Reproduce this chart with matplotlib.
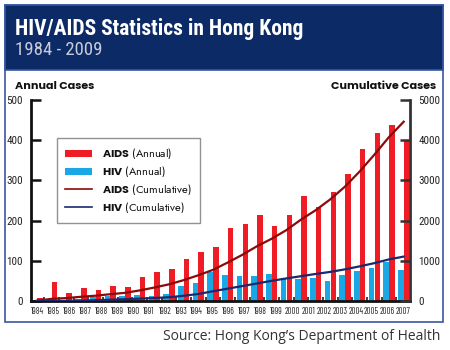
import numpy as np
import matplotlib
matplotlib.use("Agg")
import matplotlib.pyplot as plt
from matplotlib import font_manager
from matplotlib.patches import Rectangle, Patch
from matplotlib.lines import Line2D

# dados (1984 - 2009)
anos = list(range(1984, 2010))
aids_anual = [7, 47, 19, 32, 27, 37, 34, 60, 72, 80, 104, 122, 134,
              182, 192, 214, 186, 214, 262, 234, 271, 316, 377, 417, 439, 400]
hiv_anual = [0, 1, 2, 6, 11, 12, 13, 14, 13, 18, 37, 45, 71,
             64, 63, 61, 67, 58, 54, 57, 50, 65, 75, 81, 97, 78]
aids_cumul = [7, 54, 73, 105, 132, 169, 203, 263, 335, 415, 519, 641, 775,
              957, 1149, 1363, 1549, 1763, 2025, 2259, 2530, 2846, 3223, 3640, 4079, 4460]
hiv_cumul = [0, 1, 3, 9, 20, 32, 45, 59, 74, 94, 130, 175, 242,
             307, 372, 436, 502, 562, 617, 673, 724, 788, 862, 942, 1035, 1105]
rotulos_x = [str(a) for a in range(1984, 2008)]
ticks_esq = [0, 100, 200, 300, 400, 500]
ticks_dir = [0, 1000, 2000, 3000, 4000, 5000]

# fontes (pega a primeira que existir, com negrito de verdade quando precisa)
fontes = font_manager.fontManager.ttflist

def escolhe(cands, peso=400):
    for c in cands:
        if any(f.name == c and f.weight >= peso for f in fontes):
            return c
    return "DejaVu Sans"

titulo_f = escolhe(["Roboto Condensed", "Barlow Condensed", "Archivo Narrow",
                    "PT Sans Narrow", "Liberation Sans Narrow"], 700)
estreita = escolhe(["Roboto Condensed", "Barlow Condensed", "Archivo Narrow",
                    "PT Sans Narrow", "Liberation Sans Narrow"])
bem_estreita = escolhe(["Barlow Condensed", "Roboto Condensed", "PT Sans Narrow",
                        "Liberation Sans Narrow"])
geo_negrito = escolhe(["League Spartan", "Jost", "Poppins", "Montserrat",
                       "Nunito Sans", "Lato"], 700)
geometrica = escolhe(["Jost", "Futura", "Poppins", "Lato"])
fonte_fonte = escolhe(["Open Sans", "Source Sans 3", "Liberation Sans"])

plt.rcParams["mathtext.fontset"] = "custom"
plt.rcParams["mathtext.bf"] = geo_negrito + ":bold"
plt.rcParams["mathtext.rm"] = geometrica

vermelho = "#ee1c25"
azul = "#1aa7e6"
linha_verm = "#8b0a0a"
linha_azul = "#1b2a6e"
marinho = "#0c2a66"

W, H = 450, 350
fig = plt.figure(figsize=(4.5, 3.5), dpi=100)

def fx(px):
    return px / W

def fy(py):
    return 1 - py / H

# moldura e faixa do titulo
fig.patches.append(Rectangle((fx(5), fy(322)), fx(438), (322 - 5) / H,
                             transform=fig.transFigure, fill=False,
                             edgecolor="#3b56a3", linewidth=1.2, zorder=0))
fig.patches.append(Rectangle((fx(5), fy(70)), fx(438), (70 - 5) / H,
                             transform=fig.transFigure, facecolor=marinho,
                             edgecolor="#3b56a3", linewidth=1.2, zorder=0))

fig.text(fx(15), fy(35), "HIV/AIDS Statistics in Hong Kong", color="white",
         fontsize=15.5, fontweight="bold", family=titulo_f, va="baseline")
fig.text(fx(15), fy(55), "1984 - 2009", color="#c9cbd6",
         fontsize=13.5, family=estreita, va="baseline")
fig.text(fx(15), fy(89), "Annual Cases", fontsize=8, fontweight="bold",
         family=geo_negrito, color="#111111", va="baseline")
fig.text(fx(436), fy(89), "Cumulative Cases", fontsize=8, fontweight="bold",
         family=geo_negrito, color="#111111", va="baseline", ha="right")
fig.text(fx(440), fy(340), "Source: Hong Kong\u2019s Department of Health",
         fontsize=10, family=fonte_fonte, color="#333333", va="baseline", ha="right")

ax = fig.add_axes([fx(31), fy(301), (410 - 31) / W, (301 - 100) / H])
ax2 = ax.twinx()

x = np.arange(len(anos))
desloc = 0.2
larg = 0.38
ax.bar(x - desloc, hiv_anual, width=larg, color=azul, zorder=2)
ax.bar(x + desloc, aids_anual, width=larg, color=vermelho, zorder=2)

ax2.plot(x, aids_cumul, color=linha_verm, linewidth=1.6)
ax2.plot(x, hiv_cumul, color=linha_azul, linewidth=1.6)

ax.set_xlim(-0.41, 25.43)
ax.set_ylim(0, 500)
ax2.set_ylim(0, 5000)

# rotulos do eixo x (nao alinhados com as barras, como no original)
ax.set_xticks(np.linspace(0.05, 24.98, len(rotulos_x)))
ax.set_xticklabels(rotulos_x, fontsize=6.3, family=bem_estreita, color="#222222")
ax.tick_params(axis="x", which="major", length=0, pad=4)
ax.set_xticks(np.arange(len(anos) - 1) + 0.5, minor=True)
ax.tick_params(axis="x", which="minor", direction="in", length=3, width=1.3,
               color="#333333")

ax.set_yticks(ticks_esq)
ax.set_yticklabels([str(t) for t in ticks_esq], fontsize=8, family=estreita,
                   color="#222222")
ax.tick_params(axis="y", direction="in", length=7, width=1.8, color="#111111", pad=6)
ax2.set_yticks(ticks_dir)
ax2.set_yticklabels([str(t) for t in ticks_dir], fontsize=8, family=estreita,
                    color="#222222")
ax2.tick_params(axis="y", direction="in", length=7, width=1.8, color="#333333", pad=6)

ax.spines["top"].set_visible(False)
ax2.spines["top"].set_visible(False)
ax.spines["left"].set_linewidth(2)
ax.spines["left"].set_color("#111111")
ax.spines["bottom"].set_linewidth(2)
ax.spines["bottom"].set_color("#111111")
ax2.spines["right"].set_linewidth(2)
ax2.spines["right"].set_color("#333333")
ax2.spines["left"].set_visible(False)
ax2.spines["bottom"].set_visible(False)
ax.spines["right"].set_visible(False)

alcas = [Patch(facecolor=vermelho), Patch(facecolor=azul),
         Line2D([0], [0], color=linha_verm, linewidth=1.2),
         Line2D([0], [0], color=linha_azul, linewidth=1.2)]
textos = [r"$\mathbf{AIDS}$ (Annual)", r"$\mathbf{HIV}$ (Annual)",
          r"$\mathbf{AIDS}$ (Cumulative)", r"$\mathbf{HIV}$ (Cumulative)"]
leg = ax2.legend(alcas, textos, loc="upper left", bbox_to_anchor=(0.069, 0.811),
                 borderaxespad=0, prop={"family": geometrica, "size": 8},
                 frameon=True, fancybox=False, labelcolor="#111111",
                 edgecolor="#777777", handlelength=2.4, handleheight=0.6,
                 handletextpad=0.9, labelspacing=0.25, borderpad=0.75)
leg.get_frame().set_linewidth(1)

fig.savefig("out.png", dpi=100)
